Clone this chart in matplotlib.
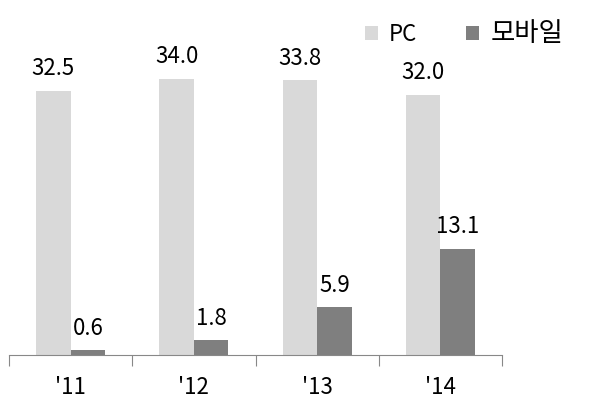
import matplotlib
matplotlib.use("Agg")
import matplotlib.pyplot as plt
import numpy as np

years = ["'11", "'12", "'13", "'14"]
pc = [32.5, 34.0, 33.8, 32.0]
mobile = [0.6, 1.8, 5.9, 13.1]

plt.rcParams['font.family'] = ['Noto Sans CJK KR', 'DejaVu Sans']

PC_COLOR = "#d9d9d9"
MOB_COLOR = "#7f7f7f"

fig = plt.figure(figsize=(6.0, 4.03), dpi=100)
ax = fig.add_axes([9 / 600, 48 / 403, 493 / 600, 355 / 403])

x = np.arange(len(years))
w = 0.28
b1 = ax.bar(x - w / 2, pc, w, color=PC_COLOR, label="PC")
b2 = ax.bar(x + w / 2, mobile, w, color=MOB_COLOR, label="모바일")

for rect, v in zip(list(b1) + list(b2), pc + mobile):
    ax.text(rect.get_x() + rect.get_width() / 2, v + 1.3, f"{v:.1f}",
            ha="center", va="bottom", fontsize=16)

ax.set_xlim(-0.5, len(years) - 0.5)
ax.set_ylim(0, 43.7)
ax.set_yticks([])
for s in ["top", "right", "left"]:
    ax.spines[s].set_visible(False)
ax.spines["bottom"].set_color("#888888")

ax.set_xticks(np.arange(-0.5, len(years), 1.0))
ax.set_xticklabels([])
ax.tick_params(axis="x", length=8, color="#888888")
ax.set_xticks(x, minor=True)
ax.set_xticklabels(years, minor=True, fontsize=16)
ax.tick_params(axis="x", which="minor", length=0, pad=15)

leg = ax.legend(loc="upper right", bbox_to_anchor=(1.165, 1.0), ncol=2, frameon=False,
                fontsize=16, handlelength=0.6, handleheight=0.6, columnspacing=2.2,
                handletextpad=0.5)
leg.get_texts()[1].set_fontsize(19)

fig.savefig("out.png", dpi=100)
